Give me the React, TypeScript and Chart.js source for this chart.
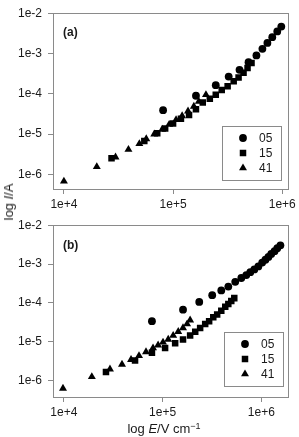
import React, { useEffect, useRef } from "react";
import { Chart, registerables } from "chart.js";

Chart.register(...registerables);

// ---------- data ----------
const seriesLabels = ["05", "15", "41"];
const seriesStyles = ["circle", "rect", "triangle"];

const yTickValues = [1e-6, 1e-5, 1e-4, 1e-3, 1e-2];
const yTickLabels = ["1e-6", "1e-5", "1e-4", "1e-3", "1e-2"];
const xTickValues = [1e4, 1e5, 1e6];
const xTickLabels = ["1e+4", "1e+5", "1e+6"];

// panel (a)
const a05E = [8.1e4, 1.62e5, 2.46e5, 3.23e5, 4.06e5, 4.91e5, 5.8e5, 6.58e5, 7.31e5, 8.1e5, 9.0e5, 9.8e5];
const a05I = [3.94e-5, 8.96e-5, 1.64e-4, 2.68e-4, 3.94e-4, 6.1e-4, 8.96e-4, 1.31e-3, 1.83e-3, 2.54e-3, 3.53e-3, 4.65e-3];
const a15E = [2.73e4, 5.45e4, 7.16e4, 8.46e4, 1.0e5, 1.18e5, 1.4e5, 1.62e5, 1.87e5, 2.17e5, 2.46e5, 2.79e5, 3.16e5, 3.59e5, 3.98e5, 4.42e5, 4.81e5, 5.23e5];
const a15I = [2.54e-6, 6.8e-6, 1.06e-5, 1.39e-5, 1.83e-5, 2.4e-5, 2.99e-5, 4.16e-5, 6.1e-5, 7.6e-5, 9.5e-5, 1.24e-4, 1.55e-4, 2.04e-4, 2.54e-4, 3.34e-4, 4.4e-4, 5.78e-4];
const a41E = [1.0e4, 2.0e4, 2.97e4, 3.9e4, 4.91e4, 5.68e4, 6.72e4, 7.94e4, 9.2e4, 1.065e5, 1.21e5, 1.37e5, 1.55e5, 1.72e5, 2.0e5];
const a41I = [6.8e-7, 1.55e-6, 2.68e-6, 4.16e-6, 5.78e-6, 7.6e-6, 1.0e-5, 1.31e-5, 1.73e-5, 2.28e-5, 2.83e-5, 3.72e-5, 4.9e-5, 6.45e-5, 9.5e-5];

// panel (b)
const b05E = [7.8e4, 1.61e5, 2.35e5, 3.18e5, 3.93e5, 4.63e5, 5.44e5, 6.27e5, 7.04e5, 7.73e5, 8.49e5, 9.33e5, 1.02e6, 1.1e6, 1.18e6, 1.26e6, 1.36e6, 1.45e6, 1.56e6];
const b05I = [3.4e-5, 6.7e-5, 1.06e-4, 1.58e-4, 2.1e-4, 2.63e-4, 3.49e-4, 4.38e-4, 5.2e-4, 6.17e-4, 7.3e-4, 8.7e-4, 1.09e-3, 1.29e-3, 1.53e-3, 1.82e-3, 2.15e-3, 2.55e-3, 3.03e-3];
const b15E = [2.67e4, 5.26e4, 7.8e4, 1.06e5, 1.34e5, 1.61e5, 1.9e5, 2.14e5, 2.4e5, 2.7e5, 2.96e5, 3.26e5, 3.57e5, 3.93e5, 4.31e5, 4.63e5, 4.96e5, 5.32e5];
const b15I = [1.67e-6, 3.3e-6, 5.2e-6, 6.9e-6, 9.2e-6, 1.15e-5, 1.45e-5, 1.82e-5, 2.28e-5, 2.86e-5, 3.4e-5, 4.26e-5, 5.06e-5, 6.34e-5, 7.96e-5, 9.4e-5, 1.12e-4, 1.33e-4];
const b41E = [9.8e3, 1.92e4, 2.93e4, 3.88e4, 4.79e4, 5.77e4, 6.79e4, 8.0e4, 9.0e4, 1.01e5, 1.14e5, 1.28e5, 1.44e5, 1.61e5, 1.77e5, 1.9e5];
const b41I = [6.3e-7, 1.26e-6, 1.98e-6, 2.63e-6, 3.49e-6, 4.38e-6, 5.5e-6, 6.9e-6, 8.2e-6, 9.7e-6, 1.15e-5, 1.45e-5, 1.82e-5, 2.28e-5, 2.86e-5, 3.6e-5];

const FONT = "'Liberation Sans', Arial, Helvetica, sans-serif";
const FRAME = "#8a8a8a";
const TEXT = "#1a1a1a";

function toPoints(xs: number[], ys: number[]) {
  return xs.map((x, i) => ({ x, y: ys[i] }));
}

function drawMarker(ctx: CanvasRenderingContext2D, style: string, x: number, y: number, r: number) {
  ctx.beginPath();
  if (style === "circle") {
    ctx.arc(x, y, r, 0, Math.PI * 2);
  } else if (style === "rect") {
    const s = r / Math.SQRT2;
    ctx.rect(x - s, y - s, 2 * s, 2 * s);
  } else {
    let rad = 0;
    ctx.moveTo(x + Math.sin(rad) * r, y - Math.cos(rad) * r);
    rad += (2 * Math.PI) / 3;
    ctx.lineTo(x + Math.sin(rad) * r, y - Math.cos(rad) * r);
    rad += (2 * Math.PI) / 3;
    ctx.lineTo(x + Math.sin(rad) * r, y - Math.cos(rad) * r);
    ctx.closePath();
  }
  ctx.fill();
}

const markerRadius: Record<string, number> = { circle: 3.9, rect: 4.6, triangle: 4.6 };

function labelFor(values: number[], labels: string[], v: number) {
  const i = values.findIndex((t) => Math.abs(Math.log10(t) - Math.log10(v)) < 1e-6);
  return i >= 0 ? labels[i] : "";
}

const decorPlugin = {
  id: "decor",
  beforeDatasetsDraw(chart: any) {
    const { ctx, chartArea } = chart;
    const { left, top, right, bottom } = chartArea;
    ctx.save();
    ctx.strokeStyle = FRAME;
    ctx.lineWidth = 1;
    ctx.strokeRect(Math.round(left) + 0.5, Math.round(top) + 0.5, Math.round(right - left), Math.round(bottom - top));
    ctx.restore();
  },
  afterDraw(chart: any, _args: any, opts: any) {
    const { ctx, chartArea } = chart;
    const { left, top, right, bottom } = chartArea;
    ctx.save();
    // panel label
    ctx.fillStyle = TEXT;
    ctx.font = `bold 12px ${FONT}`;
    ctx.textBaseline = "middle";
    ctx.textAlign = "left";
    ctx.fillText(opts.panel, left + 10, top + opts.labelDy);
    // legend box
    const w = 59, h = 54;
    const bx = Math.round(right - opts.legRight - w);
    const by = Math.round(bottom - opts.legBottom - h);
    ctx.fillStyle = "#fff";
    ctx.fillRect(bx, by, w, h);
    ctx.strokeStyle = FRAME;
    ctx.lineWidth = 1;
    ctx.strokeRect(bx + 0.5, by + 0.5, w, h);
    ctx.font = `12px ${FONT}`;
    chart.data.datasets.forEach((ds: any, i: number) => {
      const yy = by + 12 + i * 15;
      ctx.fillStyle = "#000";
      drawMarker(ctx, ds.pointStyle, bx + 21, yy, markerRadius[ds.pointStyle]);
      ctx.fillStyle = TEXT;
      ctx.fillText(ds.label, bx + 37, yy + 0.5);
    });
    ctx.restore();
  },
};

function makeConfig(
  sets: { E: number[]; I: number[] }[],
  xmin: number,
  xmax: number,
  ymin: number,
  xAxisH: number,
  rightPad: number,
  decor: any
): any {
  return {
    type: "scatter",
    data: {
      datasets: sets.map((s, i) => ({
        label: seriesLabels[i],
        data: toPoints(s.E, s.I),
        pointStyle: seriesStyles[i],
        pointRadius: markerRadius[seriesStyles[i]],
        pointHoverRadius: markerRadius[seriesStyles[i]],
        backgroundColor: "#000",
        borderColor: "#000",
        borderWidth: 0,
        showLine: false,
      })),
    },
    options: {
      responsive: false,
      animation: false,
      events: [],
      layout: { padding: { top: 6, right: rightPad, left: 0, bottom: 0 } },
      plugins: {
        legend: { display: false },
        tooltip: { enabled: false },
        decor,
      },
      scales: {
        x: {
          type: "logarithmic",
          min: xmin,
          max: xmax,
          afterBuildTicks: (s: any) => {
            s.ticks = xTickValues.map((v) => ({ value: v }));
          },
          afterFit: (s: any) => {
            s.height = xAxisH;
          },
          ticks: {
            autoSkip: false,
            maxRotation: 0,
            padding: 3,
            color: TEXT,
            font: { family: FONT, size: 12 },
            callback: (v: number) => labelFor(xTickValues, xTickLabels, v),
          },
          grid: { drawOnChartArea: false, drawTicks: true, tickLength: 5, color: FRAME },
          border: { display: false },
        },
        y: {
          type: "logarithmic",
          min: ymin,
          max: 1e-2,
          afterBuildTicks: (s: any) => {
            s.ticks = yTickValues.map((v) => ({ value: v }));
          },
          afterFit: (s: any) => {
            s.width = 53;
          },
          ticks: {
            autoSkip: false,
            padding: 6,
            color: TEXT,
            font: { family: FONT, size: 12 },
            callback: (v: number) => labelFor(yTickValues, yTickLabels, v),
          },
          grid: { drawOnChartArea: false, drawTicks: true, tickLength: 5, color: FRAME },
          border: { display: false },
        },
      },
    },
    plugins: [decorPlugin],
  };
}

export default function App() {
  const refA = useRef<HTMLCanvasElement>(null);
  const refB = useRef<HTMLCanvasElement>(null);

  useEffect(() => {
    const chartA = new Chart(
      refA.current as HTMLCanvasElement,
      makeConfig(
        [
          { E: a05E, I: a05I },
          { E: a15E, I: a15I },
          { E: a41E, I: a41I },
        ],
        Math.pow(10, 3.9),
        Math.pow(10, 6.055),
        Math.pow(10, -6.36),
        23,
        9,
        { panel: "(a)", labelDy: 19, legRight: 7, legBottom: 9 }
      )
    );
    const chartB = new Chart(
      refB.current as HTMLCanvasElement,
      makeConfig(
        [
          { E: b05E, I: b05I },
          { E: b15E, I: b15I },
          { E: b41E, I: b41I },
        ],
        Math.pow(10, 3.89),
        Math.pow(10, 6.27),
        Math.pow(10, -6.42),
        40,
        11,
        { panel: "(b)", labelDy: 20, legRight: 5, legBottom: 11 }
      )
    );
    return () => {
      chartA.destroy();
      chartB.destroy();
    };
  }, []);

  return (
    <div style={{ position: "fixed", left: 0, top: 0, width: 299, height: 437, background: "#fff", overflow: "hidden" }}>
      <canvas ref={refA} width={299} height={212} style={{ position: "absolute", left: 0, top: 0 }} />
      <canvas ref={refB} width={299} height={225} style={{ position: "absolute", left: 0, top: 212 }} />
      <div
        style={{
          position: "absolute",
          left: 9,
          top: 202,
          transform: "translate(-50%, -50%) rotate(-90deg)",
          whiteSpace: "nowrap",
          font: `13px ${FONT}`,
          color: TEXT,
          lineHeight: "14px",
        }}
      >
        log <i>I</i>/A
      </div>
      <div
        style={{
          position: "absolute",
          left: 164,
          top: 427,
          transform: "translate(-50%, -50%)",
          whiteSpace: "nowrap",
          font: `13px ${FONT}`,
          color: TEXT,
          lineHeight: "14px",
        }}
      >
        log <i>E</i>/V cm<span style={{ fontSize: 9, verticalAlign: "4px" }}>−1</span>
      </div>
    </div>
  );
}
